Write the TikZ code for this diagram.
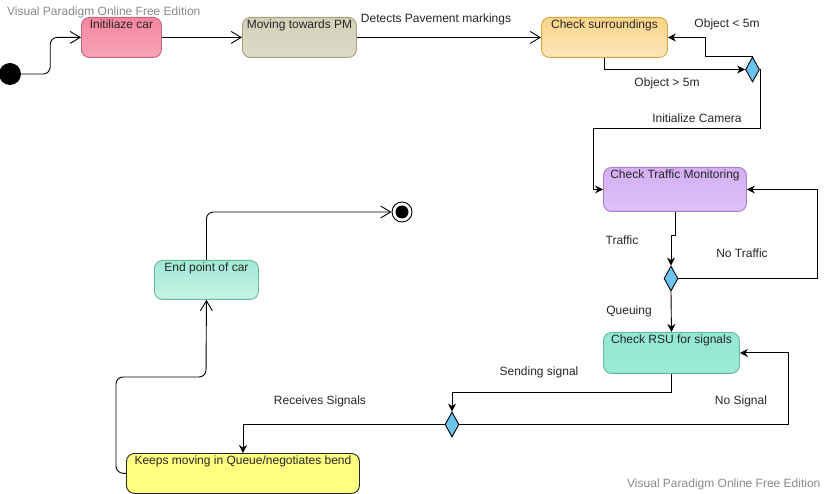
\documentclass[tikz,border=0pt]{standalone}
\usepackage{fontspec}
\setmainfont{Liberation Sans}
\usetikzlibrary{arrows.meta,shapes.geometric,calc}
\definecolor{pinkT}{HTML}{F4869F}
\definecolor{pinkB}{HTML}{F7A3B7}
\definecolor{pinkD}{HTML}{C2647C}
\definecolor{oliveT}{HTML}{D2D0B8}
\definecolor{oliveB}{HTML}{DEDCC9}
\definecolor{oliveD}{HTML}{A6A07A}
\definecolor{orT}{HTML}{FCD488}
\definecolor{orB}{HTML}{FDE6B9}
\definecolor{orD}{HTML}{D8A43E}
\definecolor{puT}{HTML}{D3AEF3}
\definecolor{puB}{HTML}{DDC2F6}
\definecolor{puD}{HTML}{A77FCC}
\definecolor{rsuT}{HTML}{90E8D0}
\definecolor{rsuB}{HTML}{9CEBD6}
\definecolor{rsuD}{HTML}{6AB8A4}
\definecolor{enT}{HTML}{A0E9D4}
\definecolor{enB}{HTML}{C6F3E6}
\definecolor{enD}{HTML}{6AB8A4}
\definecolor{yel}{HTML}{FFFF80}
\definecolor{dia}{HTML}{6CC4EE}
\definecolor{wm}{HTML}{8A8A8A}
\tikzset{
  txt/.style={font=\fontsize{12}{14}\selectfont, text=black!85},
  state/.style={draw, rounded corners=8pt, inner sep=0pt, anchor=north west, line width=0.9pt},
  lbl/.style={anchor=north, inner sep=0pt, yshift=-3pt, txt},
  decision/.style={diamond, draw=black, fill=dia, line width=0.9pt, inner sep=0pt, minimum width=14pt, minimum height=25pt},
  openarr/.style={draw=black, line width=0.9pt, -{Straight Barb[length=10pt,width=12pt,line width=0.9pt]}},
  fillarr/.style={draw=black, line width=0.9pt, -{Stealth[length=8pt,width=8pt]}},
  elbl/.style={txt, inner sep=0pt},
  wmark/.style={font=\fontsize{12}{14}\selectfont, text=wm, inner sep=0pt}
}
\begin{document}
\begin{tikzpicture}[x=1pt,y=-1pt]
\useasboundingbox (0,0) rectangle (825,494);
% watermarks
\node[wmark, anchor=west] (wm1) at (7,12) {Visual Paradigm Online Free Edition};
\node[wmark, anchor=west] (wm2) at (627,484) {Visual Paradigm Online Free Edition};
% initial and final
\node[circle, fill=black, minimum size=22pt, inner sep=0pt] (ini) at (10,74) {};
\node[circle, draw=black, fill=white, line width=0.9pt, minimum size=20pt, inner sep=0pt] (fin) at (402,212) {};
\node[circle, fill=black, minimum size=13pt, inner sep=0pt] (finc) at (fin.center) {};
% states
\node[state, minimum width=80pt, minimum height=40pt, top color=pinkT, bottom color=pinkB, draw=pinkD,
  label={[lbl]north:Initiliaze car}] (init) at (81,17) {};
\node[state, minimum width=114pt, minimum height=40pt, top color=oliveT, bottom color=oliveB, draw=oliveD,
  label={[lbl]north:Moving towards PM}] (mov) at (242,17) {};
\node[state, minimum width=126pt, minimum height=40pt, top color=orT, bottom color=orB, draw=orD,
  label={[lbl]north:Check surroundings}] (cs) at (541,17) {};
\node[state, minimum width=143pt, minimum height=44pt, top color=puT, bottom color=puB, draw=puD,
  label={[lbl]north:Check Traffic Monitoring}] (ctm) at (603,167) {};
\node[state, minimum width=136pt, minimum height=41pt, top color=rsuT, bottom color=rsuB, draw=rsuD,
  label={[lbl]north:Check RSU for signals}] (rsu) at (603,332) {};
\node[state, minimum width=104pt, minimum height=39pt, top color=enT, bottom color=enB, draw=enD,
  label={[lbl]north:End point of car}] (endp) at (154,260) {};
\node[state, minimum width=233pt, minimum height=40pt, fill=yel, draw=black!85,
  label={[lbl]north:Keeps moving in Queue/negotiates bend}] (keep) at (126,453) {};
% decisions
\node[decision] (d1) at (752.5,69.5) {};
\node[decision] (d2) at (671,278.5) {};
\node[decision] (d3) at (452,424.5) {};
% connectors
\draw[openarr, rounded corners=7pt] (ini.east) -- ++(29,0) |- (init.west);
\draw[openarr] (init.east) -- (mov.west);
\draw[openarr] (mov.east) -- (cs.west);
\draw[fillarr] (cs.south) |- (d1.west);
\draw[fillarr] (d1.north) -- ++(-47.5,0) |- (cs.east);
\draw[fillarr] (d1.east) -- ($(d1.east)+(0,58.5)$) -- (593,128) |- (ctm.west);
\draw[fillarr] (ctm.south) -- ++(0,24) -| (d2.north);
\draw[fillarr] (d2.east) -- (817,278.5) |- (ctm.east);
\draw[fillarr] (d2.south) -- (rsu.north);
\draw[fillarr] (rsu.south) -- ++(0,19) -| (d3.north);
\draw[fillarr] (d3.east) -- (788,424.5) |- (rsu.east);
\draw[fillarr] (d3.west) -| (keep.north);
\draw[openarr, rounded corners=7pt] (keep.west) -- (116,473) -- (116,377) -- (206,377) -- (endp.south);
\draw[openarr, rounded corners=7pt] (endp.north) |- (fin.west);
% edge labels
\node[elbl] (l1) at (436,19) {Detects Pavement markings};
\node[elbl] (l2) at (727,24) {Object < 5m};
\node[elbl] (l3) at (667,83) {Object > 5m};
\node[elbl] (l4) at (697,118) {Initialize Camera};
\node[elbl] (l5) at (622,240) {Traffic};
\node[elbl] (l6) at (742,253) {No Traffic};
\node[elbl] (l7) at (629,311) {Queuing};
\node[elbl] (l8) at (539,372) {Sending signal};
\node[elbl] (l9) at (741,401) {No Signal};
\node[elbl] (l10) at (320,401) {Receives Signals};
\end{tikzpicture}
\end{document}
